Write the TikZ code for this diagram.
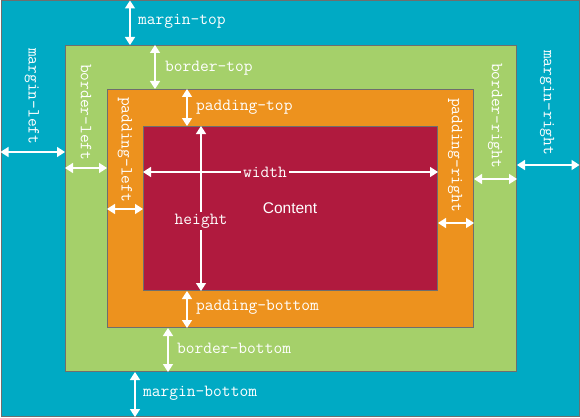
\documentclass[tikz,border=0pt]{standalone}
\usepackage{fontspec}
\setsansfont{Liberation Sans}
\usepackage{xcolor}
\usetikzlibrary{arrows.meta, positioning, calc}

\definecolor{marginblue}{RGB}{0,170,196}
\definecolor{bordergreen}{RGB}{165,208,106}
\definecolor{paddingorange}{RGB}{237,146,30}
\definecolor{contentred}{RGB}{176,26,62}
\definecolor{edgegray}{RGB}{110,110,110}

\begin{document}
\begin{tikzpicture}[
    x=1pt, y=-1pt,
    box/.style={rectangle, draw=edgegray, line width=1pt, inner sep=0pt, anchor=north west},
    lbl/.style={text=white, font=\fontsize{17}{19}\selectfont\ttfamily, inner sep=0pt},
    vlbl/.style={lbl, rotate=-90, anchor=west},
    dim/.style={white, line width=1.6pt, {Triangle[width=10pt,length=8pt]}-{Triangle[width=10pt,length=8pt]}}
]
    \useasboundingbox (0,0) rectangle (580,417);

    % nested boxes
    \node [box, fill=marginblue, minimum width=578pt, minimum height=415.5pt] (outer) at (0.5,0.5) {};
    \node [box, fill=bordergreen, minimum width=451pt, minimum height=326pt] (border) at (65,45) {};
    \node [box, fill=paddingorange, minimum width=366pt, minimum height=238pt] (padding) at (107,89) {};
    \node [box, fill=contentred, minimum width=294pt, minimum height=164pt] (content) at (143,126) {};

    % positions of the measuring lines
    \coordinate (mt) at (130,0);
    \coordinate (bt) at (155,0);
    \coordinate (pt) at (187,0);
    \coordinate (pb) at (187,0);
    \coordinate (bb) at (168,0);
    \coordinate (mb) at (135,0);
    \coordinate (ml) at (0,152);
    \coordinate (bl) at (0,168);
    \coordinate (pl) at (0,209);
    \coordinate (pr) at (0,223);
    \coordinate (br) at (0,179);
    \coordinate (mr) at (0,165);
    \coordinate (wd) at (0,172);
    \coordinate (ht) at (201,0);

    % top and bottom
    \draw [dim] (mt |- outer.north) -- (mt |- border.north);
    \draw [dim] (bt |- border.north) -- (bt |- padding.north);
    \draw [dim] (pt |- padding.north) -- (pt |- content.north);
    \draw [dim] (pb |- content.south) -- (pb |- padding.south);
    \draw [dim] (bb |- padding.south) -- (bb |- border.south);
    \draw [dim] (mb |- border.south) -- (mb |- outer.south);

    % left and right
    \draw [dim] (ml -| outer.west) -- (ml -| border.west);
    \draw [dim] (bl -| border.west) -- (bl -| padding.west);
    \draw [dim] (pl -| padding.west) -- (pl -| content.west);
    \draw [dim] (pr -| content.east) -- (pr -| padding.east);
    \draw [dim] (br -| padding.east) -- (br -| border.east);
    \draw [dim] (mr -| border.east) -- (mr -| outer.east);

    % content size
    \draw [dim] (wd -| content.west) -- (wd -| content.east);
    \draw [dim] (ht |- content.north) -- (ht |- content.south);

    \node [lbl, anchor=west] (mtlbl) at (138,21) {margin-top};
    \node [lbl, anchor=west] (btlbl) at (165,68) {border-top};
    \node [lbl, anchor=west] (ptlbl) at (196,107) {padding-top};
    \node [lbl, anchor=west] (pblbl) at (196,307) {padding-bottom};
    \node [lbl, anchor=west] (bblbl) at (177,348) {border-bottom};
    \node [lbl, anchor=west] (mblbl) at (143,393) {margin-bottom};

    \node [vlbl] (mllbl) at (32,48) {margin-left};
    \node [vlbl] (bllbl) at (86,64) {border-left};
    \node [vlbl] (pllbl) at (125,97) {padding-left};
    \node [vlbl] (prlbl) at (455,98) {padding-right};
    \node [vlbl] (brlbl) at (495,63) {border-right};
    \node [vlbl] (mrlbl) at (547,50) {margin-right};

    \node [lbl, fill=contentred, inner xsep=2pt, inner ysep=2pt] (wdlbl) at (265,172) {width};
    \node [lbl, fill=contentred, inner xsep=2pt, inner ysep=2pt] (htlbl) at (201,221) {height};
    \node [text=white, font=\fontsize{15.5}{17}\selectfont\sffamily] (ctlbl) at (290,208) {Content};
\end{tikzpicture}
\end{document}
